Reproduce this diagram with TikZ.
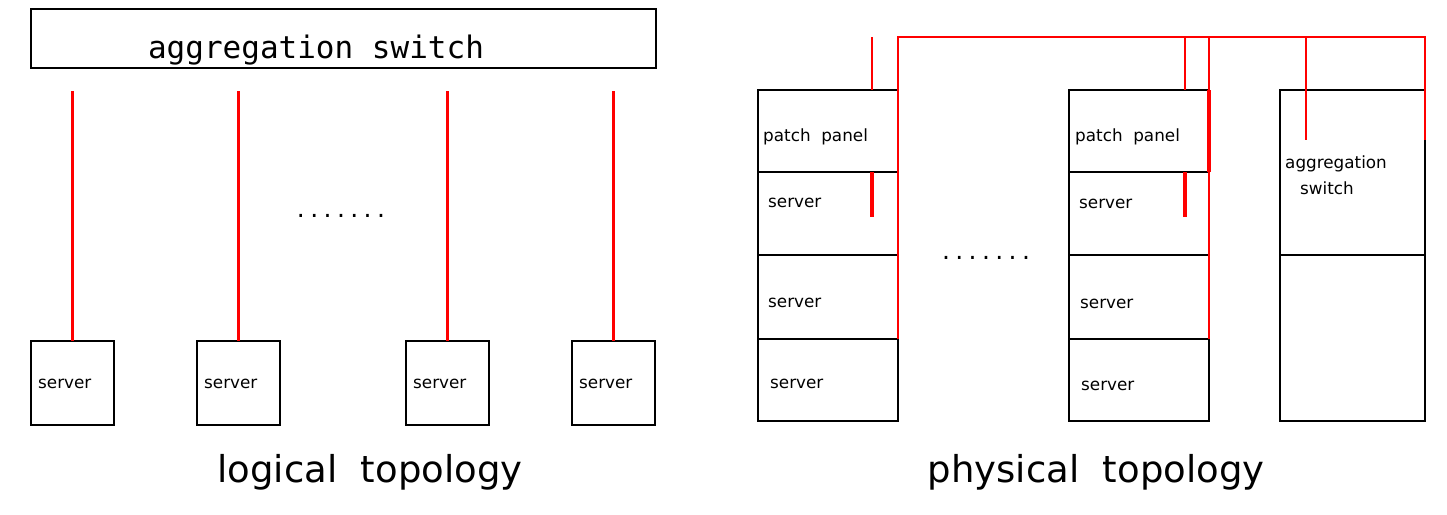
\documentclass[tikz,border=0pt]{standalone}
\usepackage{fontspec}
\setmainfont{DejaVu Sans}
\newfontfamily\monofam{DejaVu Sans Mono}
\newcommand{\dotrow}{.\hspace{5.4pt}.\hspace{5.4pt}.\hspace{5.4pt}.\hspace{5.4pt}.\hspace{5.4pt}.\hspace{5.4pt}.}
\begin{document}
\begin{tikzpicture}[x=1pt,y=-1pt,
  box/.style={draw=black, line width=1.8pt, inner sep=0pt, outer sep=0pt},
  lbl/.style={inner sep=0pt, anchor=west, font=\fontsize{16.8}{20}\selectfont},
  big/.style={inner sep=0pt, font=\fontsize{37}{44}\selectfont},
  dots/.style={inner sep=0pt, font=\fontsize{25}{28}\selectfont},
  wire/.style={draw=red, line width=2.4pt},
  thickwire/.style={draw=red, line width=3.6pt}]
\useasboundingbox (0,0) rectangle (1447,514);

% ---------- logical topology ----------
\node[box, minimum width=625pt, minimum height=59pt] (agg) at (343.5,38.5) {};
\node[inner sep=0pt, font=\monofam\fontsize{31}{36}\selectfont] (aggt) at (316,50) {aggregation switch};

\foreach \n/\x in {a/72.5,b/238.5,c/447.5,d/613.5} {
  \node[box, minimum width=83pt, minimum height=84pt] (s\n) at (\x,383) {};
  \coordinate (t\n) at (\x,91);
  \draw[wire] (t\n) -- (s\n.north);
}
\node[lbl] at (38,384) {server};
\node[lbl] at (204,384) {server};
\node[lbl] at (413,384) {server};
\node[lbl] at (579,384) {server};
\node[dots] (dl) at (341,216) {\dotrow};
\node[big] (lt) at (370,472) {logical\ \ topology};

% ---------- physical topology ----------
% rack 1
\node[box, minimum width=140pt, minimum height=82pt, anchor=north west] (pp1) at (758,90) {};
\node[box, minimum width=140pt, minimum height=83pt, anchor=north west] (r1s1) at (758,172) {};
\node[box, minimum width=140pt, minimum height=84pt, anchor=north west] (r1s2) at (758,255) {};
\node[box, minimum width=140pt, minimum height=82pt, anchor=north west] (r1s3) at (758,339) {};
\node[lbl] at (763,137) {patch\ \ panel};
\node[lbl] at (768,203) {server};
\node[lbl] at (768,303) {server};
\node[lbl] at (770,384) {server};
% rack 2
\node[box, minimum width=140pt, minimum height=82pt, anchor=north west] (pp2) at (1069,90) {};
\node[box, minimum width=140pt, minimum height=83pt, anchor=north west] (r2s1) at (1069,172) {};
\node[box, minimum width=140pt, minimum height=84pt, anchor=north west] (r2s2) at (1069,255) {};
\node[box, minimum width=140pt, minimum height=82pt, anchor=north west] (r2s3) at (1069,339) {};
\node[lbl] at (1075,137) {patch\ \ panel};
\node[lbl] at (1079,204) {server};
\node[lbl] at (1080,304) {server};
\node[lbl] at (1081,386) {server};
% rack 3
\node[box, minimum width=145pt, minimum height=165pt, anchor=north west] (as) at (1280,90) {};
\node[box, minimum width=145pt, minimum height=166pt, anchor=north west] (r3s2) at (1280,255) {};
\node[lbl, align=left, anchor=north west, font=\fontsize{16.8}{26}\selectfont] (ast) at (1285,156) {aggregation\\\hspace*{15pt}switch};

\node[dots] (dr) at (986,258) {\dotrow};
\node[big] (pt) at (1096,472) {physical\ \ topology};

% wires
\coordinate (c1) at (872,37);
\coordinate (c2) at (898,37);
\coordinate (c3) at (1185,37);
\coordinate (c4) at (1209,37);
\coordinate (c5) at (1306,37);
\coordinate (c6) at (1425,37);
\coordinate (e5) at (1306,140);
\coordinate (e6) at (1425,140);
\draw[wire] (c1) -- (c1 |- pp1.north);
\draw[thickwire] (c1 |- r1s1.north) -- ++(0,45);
\draw[wire] (pp1.north east |- r1s3.north) -- (c2) -- (c6) -- (e6);
\draw[wire] (c3) -- (c3 |- pp2.north);
\draw[thickwire] (c3 |- r2s1.north) -- ++(0,45);
\draw[wire] (c4) -- (c4 |- r2s3.north);
\draw[thickwire] (pp2.north east) -- (pp2.south east);
\draw[wire] (c5) -- (e5);
\end{tikzpicture}
\end{document}
